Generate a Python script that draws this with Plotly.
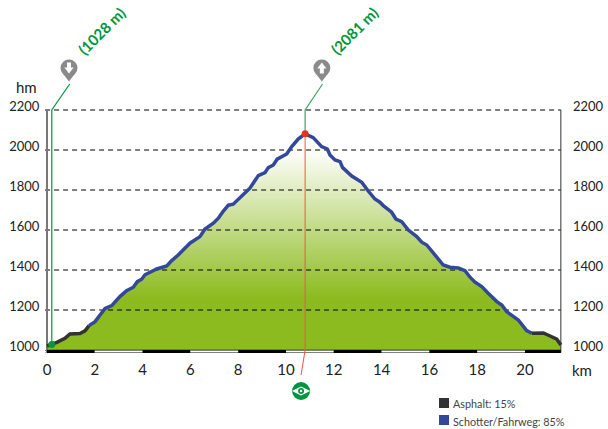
import plotly.graph_objects as go

# Data
km_start = [0, 0.2, 0.41, 0.75, 0.96, 1.38, 1.59, 1.76]
hm_start = [1020, 1028, 1038, 1058, 1080, 1082, 1096, 1122]
km_mid = [1.76, 2.01, 2.22, 2.43, 2.71, 3.05, 3.33, 3.61, 3.78, 3.96, 4.10, 4.31, 4.59, 5.01, 5.22, 5.49,
          5.98, 6.40, 6.61, 6.96, 7.17, 7.38, 7.59, 7.79, 8.08, 8.49, 8.84, 9.12, 9.26, 9.47, 9.63,
          10.03, 10.24, 10.51, 10.8, 11.14, 11.49, 11.73, 11.84, 12.05, 12.26, 12.37, 12.75, 13.17,
          13.44, 13.72, 13.93, 14.07, 14.42, 14.60, 14.84, 15.12, 15.47, 15.68, 15.89, 16.16, 16.37,
          16.58, 16.86, 17.21, 17.49, 17.70, 17.91, 18.19, 18.46, 18.82, 19.03, 19.23, 19.72, 20.07, 20.28]
hm_mid = [1122, 1142, 1175, 1208, 1222, 1267, 1297, 1314, 1342, 1354, 1376, 1387, 1405, 1420, 1447, 1475,
          1534, 1567, 1605, 1634, 1659, 1695, 1724, 1729, 1762, 1809, 1872, 1887, 1912, 1925, 1954,
          1980, 2017, 2055, 2081, 2062, 2017, 2005, 1975, 1950, 1942, 1912, 1870, 1839,
          1795, 1755, 1739, 1722, 1689, 1655, 1642, 1600, 1567, 1539, 1525, 1484, 1455,
          1425, 1414, 1410, 1397, 1364, 1339, 1317, 1284, 1242, 1225, 1192, 1150, 1097, 1084]
km_end = [20.28, 20.77, 21.05, 21.33, 21.5]
hm_end = [1084, 1085, 1070, 1054, 1025]
surface_edges = [0, 2, 4, 6, 8, 10, 12, 14, 16, 18, 20, 21.5]
x_ticks = [0, 2, 4, 6, 8, 10, 12, 14, 16, 18, 20]
y_ticks = [1000, 1200, 1400, 1600, 1800, 2000, 2200]
low_label = "(1028 m)"
high_label = "(2081 m)"
low_km, low_hm = 0.2, 1028
high_km, high_hm = 10.8, 2081
legend_labels = ["Asphalt: 15%", "Schotter/Fahrweg: 85%"]

GREEN = "#009640"
GRAY = "#8a8a8a"
DARK = "#333333"
BLUE = "#34489a"
FONT = "Lato"
W, H = 608, 429
X_END = 21.5
Y_BASE = 997
Y_AXIS = 987.5
Y_TOP = 2200

km_all = km_start + km_mid[1:] + km_end[1:]
hm_all = hm_start + hm_mid[1:] + hm_end[1:]


def line(xs, ys, color, width, dash=None):
    fig.add_trace(go.Scatter(x=xs, y=ys, mode="lines", line=dict(color=color, width=width, dash=dash),
                             hoverinfo="skip", showlegend=False))


def dot(x, y, color, size, symbol="circle", outline=None):
    m = dict(color=color, size=size, symbol=symbol)
    if outline:
        m["line"] = dict(color=outline, width=4)
    fig.add_trace(go.Scatter(x=[x], y=[y], mode="markers", marker=m, hoverinfo="skip", showlegend=False))


fig = go.Figure()

# gradient fill
fig.add_trace(go.Scatter(
    x=[0] + km_all + [X_END], y=[Y_BASE] + hm_all + [Y_BASE], mode="none", fill="toself",
    fillgradient=dict(type="vertical", start=2081, stop=1000,
                      colorscale=[[0, "#ffffff"], [0.1, "#fbfcf5"], [0.76, "#8cbb1f"], [1, "#8cbb1f"]]),
    hoverinfo="skip", showlegend=False))

# dashed gridlines above the fill
gx, gy = [], []
for t in y_ticks[1:]:
    gx += [-0.08, X_END, None]
    gy += [t, t, None]
line(gx, gy, "#000000", 1, "5px,4px")

# axis frame
line([-0.08, X_END], [Y_AXIS, Y_AXIS], "#b5b5b5", 1)
line([0, 0], [Y_AXIS, Y_TOP], "#777777", 2)
line([X_END, X_END], [Y_AXIS, Y_TOP], "#333333", 1)

# surface strip
for i in range(len(surface_edges) - 1):
    line(surface_edges[i:i + 2], [Y_BASE - 4, Y_BASE - 4], "#000000", 3.2)
    if i % 2 == 1:
        line(surface_edges[i:i + 2], [Y_BASE - 4, Y_BASE - 4], "#ffffff", 2)

# connectors
line([low_km, low_km, 0.95], [low_hm, Y_TOP, 2330], GREEN, 1.2)
line([high_km, high_km, 11.53], [high_hm, Y_TOP, 2330], "#3fa56a", 1.2)
line([high_km, high_km, 10.63], [high_hm, 1000, 875], "#ee5a3a", 1)

# profile
line(km_start, hm_start, DARK, 3.5)
line(km_mid, hm_mid, BLUE, 3.5)
line(km_end, hm_end, DARK, 3.5)

# end markers
dot(low_km, low_hm, GREEN, 7)
dot(high_km, high_hm, "#e2341a", 7)

# pins
PIN_Y = 2410
for px, sym, shaft_dy, head_dy in [(0.92, "triangle-down", 10, -8), (11.5, "triangle-up", -10, 8)]:
    dot(px, PIN_Y - 42, GRAY, 10, "triangle-down")
    dot(px, PIN_Y, GRAY, 17)
    dot(px, PIN_Y + shaft_dy, "white", 5, "line-ns", "white")
    dot(px, PIN_Y + head_dy, "white", 8, sym)

# eye badge
for size, color, sym in [(18, GREEN, "circle"), (13, "white", "diamond-wide"),
                         (6, GREEN, "circle"), (2.5, "white", "circle")]:
    dot(10.63, 795, color, size, sym)

# right axis carrier
fig.add_trace(go.Scatter(x=[0], y=[1000], yaxis="y2", mode="none", hoverinfo="skip", showlegend=False))

ytickfont = dict(family=FONT, size=13, color="#222222")
xtickfont = dict(family=FONT, size=15, color="#222222")
x_range = [-47 / 23.9, 561 / 23.9]
y_range = [1000 - (H - 350) * 5, 1000 + 350 * 5]


def paper(px, py):
    return px / W, 1 - py / H


def text(s, px, py, size=14, color="#222222", anchor="center"):
    x, y = paper(px, py)
    return dict(text=s, xref="paper", yref="paper", x=x, y=y, xanchor=anchor, yanchor="middle",
                showarrow=False, font=dict(family=FONT, size=size, color=color))


def square(px0, py0, color):
    x0, y1 = paper(px0, py0)
    x1, y0 = paper(px0 + 10, py0 + 10)
    return dict(type="rect", xref="paper", yref="paper", x0=x0, x1=x1, y0=y0, y1=y1,
                fillcolor=color, line_width=0)


fig.update_layout(
    width=W, height=H, autosize=False,
    margin=dict(l=0, r=0, t=0, b=0),
    paper_bgcolor="white", plot_bgcolor="white",
    showlegend=False,
    font=dict(family=FONT),
    xaxis=dict(range=x_range, tickvals=x_ticks, showgrid=False, zeroline=False, showline=False,
               anchor="free", position=(H - 352) / H, ticks="", tickfont=xtickfont,
               ticklabelstandoff=7),
    yaxis=dict(range=y_range, tickvals=y_ticks, showgrid=False, zeroline=False, showline=False,
               anchor="free", position=47 / W, ticks="outside", ticklen=2, tickcolor="#777777",
               tickfont=ytickfont, ticklabelshift=-4, ticklabelstandoff=3),
    yaxis2=dict(range=y_range, tickvals=y_ticks, overlaying="y", side="right", anchor="free",
                position=561 / W, showgrid=False, zeroline=False, showline=False,
                ticks="", tickfont=ytickfont, ticklabelshift=-4, ticklabelstandoff=11),
    annotations=[
        text("hm", 26, 87, 15),
        text("km", 582, 370, 15),
        dict(text=f"<b>{low_label}</b>", x=2.28, y=2595, showarrow=False, textangle=-45,
             font=dict(family=FONT, size=15, color=GREEN)),
        dict(text=f"<b>{high_label}</b>", x=12.85, y=2595, showarrow=False, textangle=-45,
             font=dict(family=FONT, size=15, color=GREEN)),
        text(legend_labels[0], 451, 403, 10.8, "#444444", "left"),
        text(legend_labels[1], 451, 421, 10.8, "#444444", "left"),
    ],
    shapes=[square(439, 398, DARK), square(439, 415, BLUE)],
)
fig.write_html("out.html", config=dict(displayModeBar=False),
               post_script="document.body.style.margin='0';document.body.style.overflow='hidden';")
